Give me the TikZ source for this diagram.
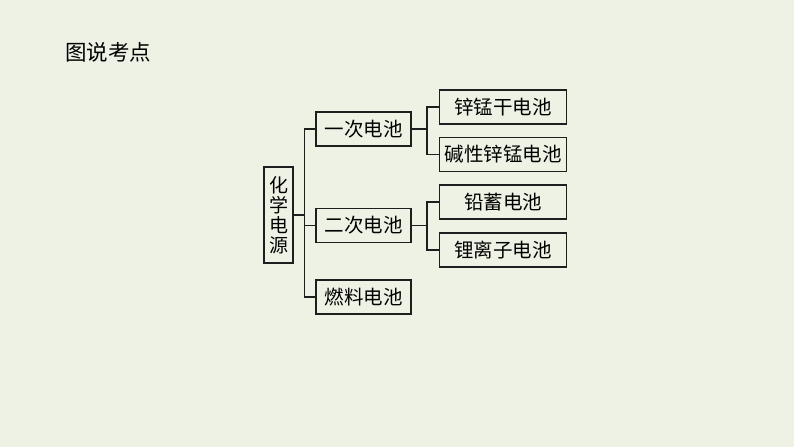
\documentclass[tikz,border=0pt]{standalone}
\usepackage{fontspec}
\newfontfamily\cjk{Noto Sans CJK SC}
\definecolor{bg}{HTML}{EEF2E4}
\definecolor{ln}{HTML}{1E1E1E}
\begin{document}
\begin{tikzpicture}[x=1pt,y=-1pt,
  box/.style={draw=ln,line width=1.6pt,fill=bg,inner sep=0pt,font=\cjk\fontsize{19.5}{21}\selectfont,text=black},
  conn/.style={draw=ln,line width=1.6pt}]
\fill[bg] (0,0) rectangle (794,447);
\useasboundingbox (0,0) rectangle (794,447);
\node[anchor=west,font=\cjk\fontsize{21.5}{24}\selectfont,inner sep=0pt] (title) at (65,52) {图说考点};
\node[box,font=\cjk\fontsize{19}{20}\selectfont,minimum width=29pt,minimum height=96pt,align=center] (root) at (278.5,215) {化\\学\\电\\源};
\node[box,minimum width=95pt,minimum height=34pt] (a1) at (363.5,129) {一次电池};
\node[box,minimum width=95pt,minimum height=34pt] (a2) at (363.5,225.5) {二次电池};
\node[box,minimum width=95pt,minimum height=34pt] (a3) at (363.5,297) {燃料电池};
\node[box,minimum width=127pt,minimum height=34pt] (b1) at (503,106.7) {锌锰干电池};
\node[box,minimum width=127pt,minimum height=34pt] (b2) at (503,154.5) {碱性锌锰电池};
\node[box,minimum width=127pt,minimum height=34pt] (b3) at (503,202) {铅蓄电池};
\node[box,minimum width=127pt,minimum height=34pt] (b4) at (503,250) {锂离子电池};
\coordinate (t0) at (304.5,215);
\draw[conn] (root.east) -- (t0);
\draw[conn] (a1.west) -- (a1.west -| t0) -- (a3.west -| t0) -- (a3.west);
\draw[conn] (a2.west -| t0) -- (a2.west);
\coordinate (t1) at (427,129);
\draw[conn] (a1.east) -- (t1);
\draw[conn] (b1.west) -- (b1.west -| t1) -- (b2.west -| t1) -- (b2.west);
\coordinate (t2) at (427,225.5);
\draw[conn] (a2.east) -- (t2);
\draw[conn] (b3.west) -- (b3.west -| t2) -- (b4.west -| t2) -- (b4.west);
\end{tikzpicture}
\end{document}
